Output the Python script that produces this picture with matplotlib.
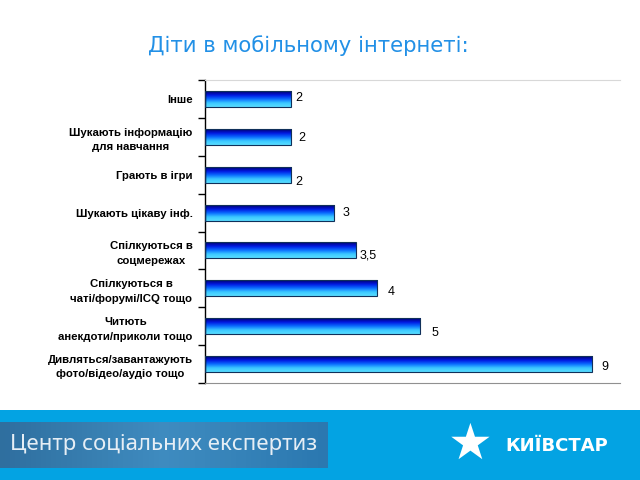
import numpy as np
import matplotlib.pyplot as plt
from matplotlib.colors import LinearSegmentedColormap
from matplotlib.patches import Rectangle

categories = ['Інше', 'Шукають інформацію\nдля навчання', 'Грають в ігри',
              'Шукають цікаву інф.', 'Спілкуються в\nсоцмережах',
              'Спілкуються в\nчаті/форумі/ICQ тощо', 'Читють\nанекдоти/приколи тощо',
              'Дивляться/завантажують\nфото/відео/аудіо тощо']
values = [2, 2, 2, 3, 3.5, 4, 5, 9]
value_labels = ['2', '2', '2', '3', '3,5', '4', '5', '9']

# label nudges in points (dx, dy)
label_offsets = [(3, 1), (5, -1), (3, -5), (6, 0), (3, -4), (8, -3), (8, -5), (7, -2)]

fig = plt.figure(figsize=(6.4, 4.8), dpi=100)
ax = fig.add_axes([205 / 640, 1 - 383 / 480, 415 / 640, 303 / 480])

n = len(categories)
ypos = np.arange(n)[::-1]
bar_h = 0.42

cmap = LinearSegmentedColormap.from_list('bars', ['#000070', '#0018e0', '#0a6cff', '#3ac8ff', '#58dcff'])
grad = np.linspace(0, 1, 64).reshape(-1, 1)

for y, v in zip(ypos, values):
    ax.imshow(grad, cmap=cmap, aspect='auto', origin='lower',
              extent=[0, v, y + bar_h / 2, y - bar_h / 2], zorder=2)
    ax.barh(y, v, height=bar_h, facecolor='none', edgecolor='#10305a', linewidth=0.8, zorder=3)

for y, v, lab, (dx, dy) in zip(ypos, values, value_labels, label_offsets):
    ax.annotate(lab, (v, y), xytext=(dx, dy), textcoords='offset points',
                ha='left', va='center', fontsize=9, family='Liberation Sans', color='black')

ax.set_xlim(0, 9.65)
ax.set_ylim(-0.5, n - 0.5)

ax.set_yticks(np.arange(-0.5, n, 1.0))
ax.set_yticklabels([])
ax.tick_params(axis='y', which='major', direction='out', length=5, width=1, color='black')
ax.set_yticks(ypos, minor=True)
ax.set_yticklabels(categories, minor=True, fontsize=8.2, fontweight='bold',
                   family='Liberation Sans', multialignment='center', linespacing=1.55)
ax.tick_params(axis='y', which='minor', length=0, pad=9)
ax.set_xticks([])

ax.spines['left'].set_color('black')
ax.spines['left'].set_linewidth(1)
ax.spines['top'].set_color('#d8d8d8')
ax.spines['top'].set_linewidth(0.8)
ax.spines['bottom'].set_color('#909090')
ax.spines['right'].set_visible(False)

fig.text(0.482, 0.904, 'Діти в мобільному інтернеті:', ha='center', va='center',
         fontsize=15.3, color='#2290e6', family='DejaVu Sans')

# footer band
fig.patches.append(Rectangle((0, 0), 1, 70 / 480, transform=fig.transFigure,
                             facecolor='#03a3e3', edgecolor='none', zorder=0))
box = fig.add_axes([0, 12 / 480, 328 / 640, 46 / 480], zorder=3)
box.imshow(np.linspace(0, 1, 64).reshape(1, -1),
           cmap=LinearSegmentedColormap.from_list('box', ['#2f6f9f', '#3f8cc0', '#2b78b0']),
           aspect='auto', extent=[0, 1, 0, 1])
box.set_axis_off()
box.text(0.5, 0.52, 'Центр соціальних експертиз', ha='center', va='center',
         fontsize=16, color='#e6eef5', family='Noto Sans', transform=box.transAxes)

fig.text(0.735, 0.073, '★', ha='center', va='center', fontsize=36, color='white', family='DejaVu Sans')
fig.text(0.79, 0.071, 'КИЇВСТАР', ha='left', va='center', fontsize=13,
         fontweight='bold', color='white', family='DejaVu Sans')

fig.savefig('out.png', dpi=100)
